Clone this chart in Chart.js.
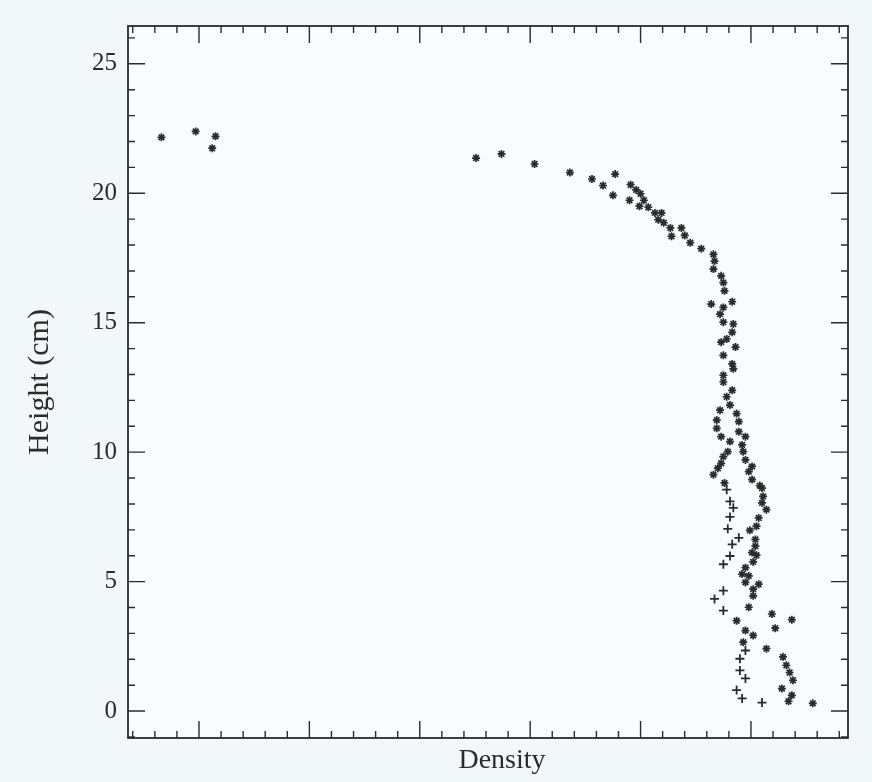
<!DOCTYPE html>
<html>
<head>
<meta charset="utf-8">
<script src="https://cdn.jsdelivr.net/npm/chart.js@4.4.0/dist/chart.umd.min.js"></script>
<style>
  html, body { margin: 0; padding: 0; background: #f2f7fa; }
  #wrap { width: 872px; height: 782px; }
</style>
</head>
<body>
<div id="wrap"><canvas id="densityChart" width="872" height="782"></canvas></div>
<script>
// tick values (x axis has no numbers, only marks)
const yTickLabels = [0, 5, 10, 15, 20, 25];
const yMinorTicks = [-1, 1, 2, 3, 4, 6, 7, 8, 9, 11, 12, 13, 14, 16, 17, 18, 19, 21, 22, 23, 24, 26];
const xMajorTicks = [1, 2, 3, 4, 5, 6];
const xMinorTicks = [0.4, 0.6, 0.8, 1.2, 1.4, 1.6, 1.8, 2.2, 2.4, 2.6, 2.8, 3.2, 3.4, 3.6, 3.8,
                     4.2, 4.4, 4.6, 4.8, 5.2, 5.4, 5.6, 5.8, 6.2, 6.4, 6.6, 6.8];

// "+" markers, left profile near the bottom
const plusDensity = [5.78, 5.81, 5.84, 5.81, 5.79, 5.89, 5.83, 5.81, 5.75, 5.75, 5.67, 5.75,
                     5.95, 5.90, 5.90, 5.95, 5.87, 5.92, 6.10];
const plusHeight  = [8.55, 8.10, 7.85, 7.50, 7.04, 6.69, 6.44, 5.99, 5.67, 4.65, 4.33, 3.88,
                     2.34, 2.02, 1.57, 1.26, 0.81, 0.49, 0.33];

// "*" markers, everything else
const starDensity = [0.66, 0.97, 1.15, 1.12,
  3.51, 3.74, 4.04, 4.36, 4.56, 4.66, 4.77, 4.75, 4.90, 4.91, 4.96, 5.00, 4.99, 5.03, 5.07, 5.13,
  5.19, 5.16, 5.21, 5.27, 5.28, 5.37, 5.40, 5.45, 5.55, 5.66, 5.67, 5.66, 5.73, 5.75, 5.76, 5.83,
  5.64, 5.75, 5.72, 5.75, 5.84, 5.83, 5.78, 5.73, 5.86, 5.75, 5.83, 5.84, 5.75, 5.75, 5.83, 5.78,
  5.81, 5.72, 5.87, 5.69, 5.89, 5.69, 5.89, 5.73, 5.95, 5.81, 5.92, 5.79, 5.93, 5.75, 5.95, 5.73,
  6.01, 5.70, 5.98, 5.66, 6.01, 5.76, 6.08,
  6.10, 6.11, 6.10, 6.14, 6.07, 6.05, 5.99, 6.04, 6.04, 6.01, 6.05, 6.02, 5.95, 5.92, 5.98, 5.95,
  6.07, 6.02, 6.02, 5.98, 6.19, 6.37, 5.87, 6.22, 5.95, 6.02, 5.93, 6.14, 6.29, 6.32, 6.35, 6.38,
  6.28, 6.37, 6.34, 6.56];
const starHeight = [22.16, 22.39, 22.20, 21.74,
  21.36, 21.52, 21.13, 20.80, 20.55, 20.30, 20.74, 19.92, 19.73, 20.33, 20.13, 19.98, 19.50, 19.73, 19.46, 19.24,
  19.24, 18.98, 18.86, 18.66, 18.34, 18.66, 18.37, 18.09, 17.86, 17.64, 17.38, 17.07, 16.81, 16.55, 16.23, 15.81,
  15.72, 15.59, 15.33, 15.02, 14.95, 14.63, 14.37, 14.25, 14.06, 13.74, 13.41, 13.22, 12.97, 12.71, 12.39, 12.14,
  11.82, 11.62, 11.49, 11.24, 11.18, 10.92, 10.79, 10.60, 10.60, 10.41, 10.28, 10.02, 10.02, 9.83, 9.70, 9.57,
  9.45, 9.38, 9.25, 9.13, 8.94, 8.81, 8.71,
  8.61, 8.29, 8.04, 7.78, 7.46, 7.14, 6.98, 6.63, 6.37, 6.12, 6.02, 5.76, 5.54, 5.29, 5.22, 4.97,
  4.90, 4.71, 4.45, 4.01, 3.75, 3.53, 3.49, 3.20, 3.11, 2.92, 2.66, 2.41, 2.09, 1.77, 1.49, 1.19,
  0.87, 0.61, 0.38, 0.30];

const ink = '#2b2b2b';
const serif = "'Liberation Serif', 'DejaVu Serif', serif";

const toPoints = (xs, ys) => xs.map((v, i) => ({ x: v, y: ys[i] }));

// frame with inward tick marks on all four sides
const frameTicks = {
  id: 'frameTicks',
  beforeDraw(chart) {
    const { ctx, chartArea: a } = chart;
    ctx.save();
    ctx.fillStyle = '#f8fcfe';
    ctx.fillRect(a.left, a.top, a.right - a.left, a.bottom - a.top);
    ctx.restore();
  },
  afterDatasetsDraw(chart) {
    const { ctx, chartArea: a, scales: { x, y } } = chart;
    ctx.save();
    ctx.strokeStyle = ink;
    ctx.lineWidth = 1.8;
    ctx.strokeRect(a.left, a.top, a.right - a.left, a.bottom - a.top);
    ctx.lineWidth = 1.4;
    const xMarks = (vals, len) => vals.forEach(v => {
      const px = x.getPixelForValue(v);
      ctx.beginPath();
      ctx.moveTo(px, a.bottom); ctx.lineTo(px, a.bottom - len);
      ctx.moveTo(px, a.top); ctx.lineTo(px, a.top + len);
      ctx.stroke();
    });
    const yMarks = (vals, len) => vals.forEach(v => {
      const py = y.getPixelForValue(v);
      ctx.beginPath();
      ctx.moveTo(a.left, py); ctx.lineTo(a.left + len, py);
      ctx.moveTo(a.right, py); ctx.lineTo(a.right - len, py);
      ctx.stroke();
    });
    xMarks(xMajorTicks, 17);
    xMarks(xMinorTicks, 7);
    yMarks(yTickLabels, 17);
    yMarks(yMinorTicks, 7);
    ctx.restore();
  }
};

new Chart(document.getElementById('densityChart'), {
  type: 'scatter',
  data: {
    datasets: [
      {
        label: 'plus',
        data: toPoints(plusDensity, plusHeight),
        pointStyle: 'cross',
        pointRadius: 4.5,
        borderWidth: 1.8,
        borderColor: ink,
        backgroundColor: ink,
      },
      {
        label: 'star',
        data: toPoints(starDensity, starHeight),
        pointStyle: 'star',
        pointRadius: 4,
        borderWidth: 1.7,
        borderColor: ink,
        backgroundColor: ink,
      },
    ],
  },
  options: {
    responsive: false,
    animation: false,
    layout: { padding: { top: 22, right: 24, left: 0, bottom: 0 } },
    plugins: {
      legend: { display: false },
      tooltip: { enabled: false },
    },
    scales: {
      x: {
        type: 'linear',
        min: 0.357,
        max: 6.879,
        afterBuildTicks: axis => { axis.ticks = xMajorTicks.map(v => ({ value: v })); },
        afterFit: scale => { scale.height = 44; },
        ticks: { display: false },
        grid: { display: false, drawTicks: false },
        border: { display: false },
        title: {
          display: true,
          text: '\u2002\u2002Density',
          color: ink,
          font: { family: serif, size: 28 },
          padding: { top: 0, bottom: 5 },
        },
      },
      y: {
        type: 'linear',
        min: -1.04,
        max: 26.46,
        afterBuildTicks: axis => { axis.ticks = yTickLabels.map(v => ({ value: v })); },
        afterFit: scale => { scale.width = 128; },
        ticks: { color: ink, padding: 11, font: { family: serif, size: 25 } },
        grid: { display: false, drawTicks: false },
        border: { display: false },
        title: {
          display: true,
          text: 'Height (cm)',
          color: ink,
          font: { family: serif, size: 30 },
          padding: { top: 22, bottom: 0 },
        },
      },
    },
  },
  plugins: [frameTicks],
});
</script>
</body>
</html>
